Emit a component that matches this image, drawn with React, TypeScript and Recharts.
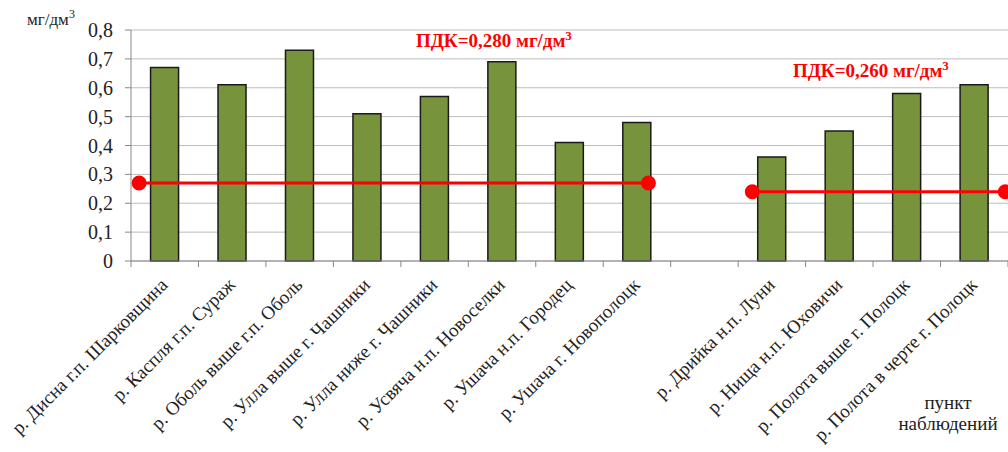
import React from "react";
import {
  Bar,
  CartesianGrid,
  ComposedChart,
  Line,
  XAxis,
  YAxis,
} from "recharts";

// пункты наблюдений (пустая позиция разделяет два бассейна)
const stations = [
  "р. Дисна г.п. Шарковщина",
  "р. Каспля г.п. Сураж",
  "р. Оболь выше г.п. Оболь",
  "р. Улла выше г. Чашники",
  "р. Улла ниже г. Чашники",
  "р. Усвяча н.п. Новоселки",
  "р. Ушача н.п. Городец",
  "р. Ушача г. Новополоцк",
  "",
  "р. Дрийка н.п. Луни",
  "р. Нища н.п. Юховичи",
  "р. Полота выше г. Полоцк",
  "р. Полота в черте г. Полоцк",
];

const values = [0.67, 0.61, 0.73, 0.51, 0.57, 0.69, 0.41, 0.48, null, 0.36, 0.45, 0.58, 0.61];

const yTicks = [0, 0.1, 0.2, 0.3, 0.4, 0.5, 0.6, 0.7, 0.8];

// линии ПДК (в долях категорий по скрытой числовой оси)
const pdk1 = [
  { x: 0.12, y: 0.27 },
  { x: 7.67, y: 0.27 },
];
const pdk2 = [
  { x: 9.21, y: 0.24 },
  { x: 12.96, y: 0.24 },
];

const rows = stations.map((name, i) => ({ name, value: values[i] }));

const SERIF = "'Liberation Serif', 'DejaVu Serif', serif";
const TEXT = "#222";

function StationTick(props: any) {
  const { x, y, payload, index } = props;
  const half = payload?.offset ?? 0;
  return (
    <g>
      <line x1={x - half} y1={y - 8} x2={x - half} y2={y - 2} stroke="#888" />
      {index === stations.length - 1 && (
        <line x1={x + half} y1={y - 8} x2={x + half} y2={y - 2} stroke="#888" />
      )}
      <text
        x={x + 4}
        y={y + 17}
        transform={`rotate(-45 ${x + 4} ${y + 17})`}
        textAnchor="end"
        fontFamily={SERIF}
        fontSize={19}
        fill={TEXT}
      >
        {payload.value}
      </text>
    </g>
  );
}

export default function App() {
  return (
    <div style={{ position: "absolute", left: 0, top: 0, width: 1008, height: 452, background: "#fff" }}>
      <ComposedChart
        width={1008}
        height={452}
        data={rows}
        margin={{ top: 30, right: 0, left: 0, bottom: 0 }}
        barCategoryGap="29%"
      >
        <CartesianGrid vertical={false} stroke="#bdbdbd" />
        <XAxis
          xAxisId="cat"
          dataKey="name"
          interval={0}
          height={191}
          tickLine={false}
          axisLine={{ stroke: "#888" }}
          tick={<StationTick />}
        />
        <XAxis
          xAxisId="num"
          type="number"
          dataKey="x"
          domain={[0, 13]}
          orientation="top"
          hide
          allowDataOverflow
        />
        <YAxis
          domain={[0, 0.8]}
          ticks={yTicks}
          interval={0}
          width={131}
          tickSize={6}
          tickMargin={12}
          axisLine={{ stroke: "#888" }}
          tickLine={{ stroke: "#888" }}
          tickFormatter={(v: number) => (v === 0 ? "0" : v.toFixed(1).replace(".", ","))}
          tick={{ fontFamily: SERIF, fontSize: 20, fill: TEXT }}
        />
        <Bar
          xAxisId="cat"
          dataKey="value"
          fill="#77933C"
          stroke="#1a1a1a"
          strokeWidth={1.5}
          isAnimationActive={false}
        />
        <Line
          xAxisId="num"
          data={pdk1}
          dataKey="y"
          type="linear"
          stroke="#ff0000"
          strokeWidth={3}
          dot={{ r: 6, fill: "#ff0000", stroke: "#ff0000" }}
          isAnimationActive={false}
        />
        <Line
          xAxisId="num"
          data={pdk2}
          dataKey="y"
          type="linear"
          stroke="#ff0000"
          strokeWidth={3}
          dot={{ r: 6, fill: "#ff0000", stroke: "#ff0000" }}
          isAnimationActive={false}
        />
      </ComposedChart>

      <div style={{ position: "absolute", left: 27, top: 7, fontFamily: SERIF, fontSize: 17, color: TEXT }}>
        мг/дм<sup style={{ fontSize: 12 }}>3</sup>
      </div>
      <div
        style={{ position: "absolute", left: 416, top: 28, fontFamily: SERIF, fontSize: 19, fontWeight: "bold", color: "#ff0000" }}
      >
        ПДК=0,280 мг/дм<sup style={{ fontSize: 13 }}>3</sup>
      </div>
      <div
        style={{ position: "absolute", left: 793, top: 58, fontFamily: SERIF, fontSize: 19, fontWeight: "bold", color: "#ff0000" }}
      >
        ПДК=0,260 мг/дм<sup style={{ fontSize: 13 }}>3</sup>
      </div>
      <div
        style={{
          position: "absolute",
          left: 888,
          top: 392,
          width: 120,
          textAlign: "center",
          fontFamily: SERIF,
          fontSize: 19,
          lineHeight: "21px",
          color: TEXT,
        }}
      >
        пункт
        <br />
        наблюдений
      </div>
    </div>
  );
}
